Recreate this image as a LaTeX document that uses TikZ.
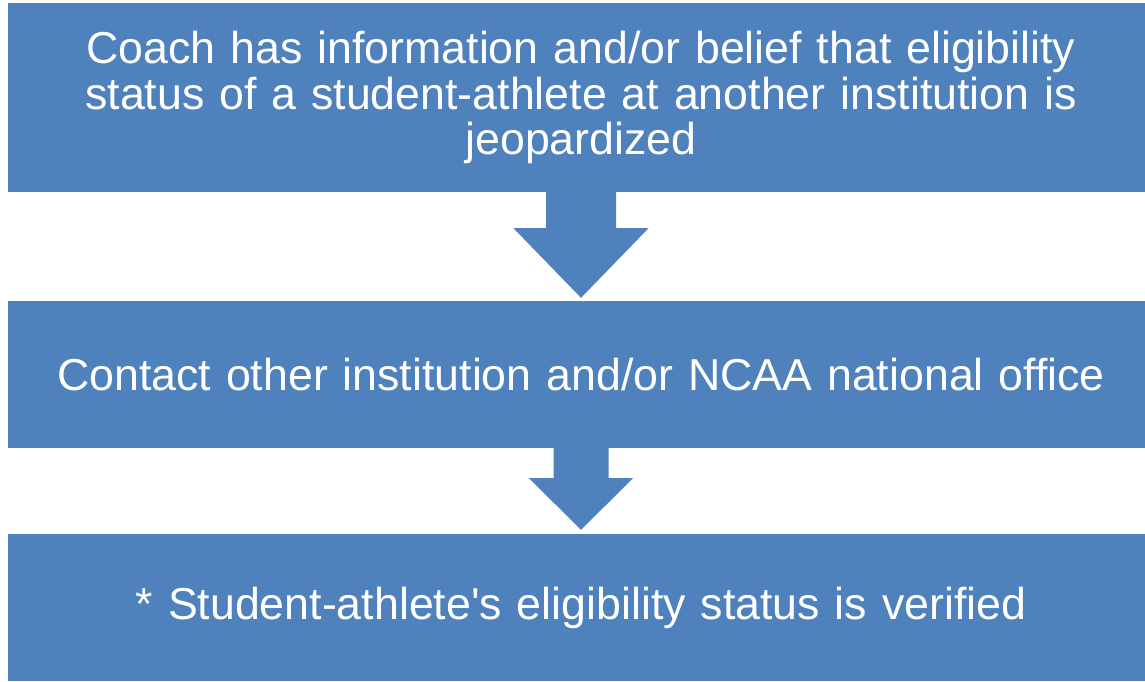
\documentclass[tikz,border=0pt]{standalone}
\usepackage{fontspec}
\setmainfont{Liberation Sans}
\usetikzlibrary{calc}
\definecolor{officeblue}{HTML}{4F81BD}
\tikzset{
  stepbox/.style={fill=officeblue, draw=none, text=white, inner sep=0pt, align=center,
    font=\fontsize{44.7}{45.5}\selectfont},
  blockarrow/.style={fill=officeblue, draw=none}
}
\begin{document}
\begin{tikzpicture}[x=1pt,y=-1pt]
\useasboundingbox (0,0) rectangle (1145,681);
\fill[white] (0,0) rectangle (1145,681);
\node[stepbox, minimum width=1146pt, minimum height=189pt, text width=1120pt] (b1) at (581,97.5)
  {Coach has information and/or belief that eligibility\\status of a student-athlete at another institution is\\jeopardized};
\node[stepbox, minimum width=1146pt, minimum height=147pt, text width=1120pt] (b2) at (581,374.5)
  {Contact other institution and/or NCAA national office};
\node[stepbox, minimum width=1146pt, minimum height=147pt, text width=1120pt] (b3) at (581,607.5)
  {* Student-athlete\textquotesingle s eligibility status is verified};
% arrow 1
\coordinate (a1) at (b1.south);
\coordinate (t1) at (b2.north);
\fill[blockarrow] ($(a1)+(-35,-1)$) -- ($(a1)+(35,-1)$) -- ($(a1)+(35,36)$) -- ($(a1)+(67.5,36)$)
  -- ($(t1)+(0,-3)$) -- ($(a1)+(-67.5,36)$) -- ($(a1)+(-35,36)$) -- cycle;
% arrow 2
\coordinate (a2) at (b2.south);
\coordinate (t2) at (b3.north);
\fill[blockarrow] ($(a2)+(-27.5,-1)$) -- ($(a2)+(27.5,-1)$) -- ($(a2)+(27.5,30)$) -- ($(a2)+(52,30)$)
  -- ($(t2)+(0,-4)$) -- ($(a2)+(-52,30)$) -- ($(a2)+(-27.5,30)$) -- cycle;
\end{tikzpicture}
\end{document}
